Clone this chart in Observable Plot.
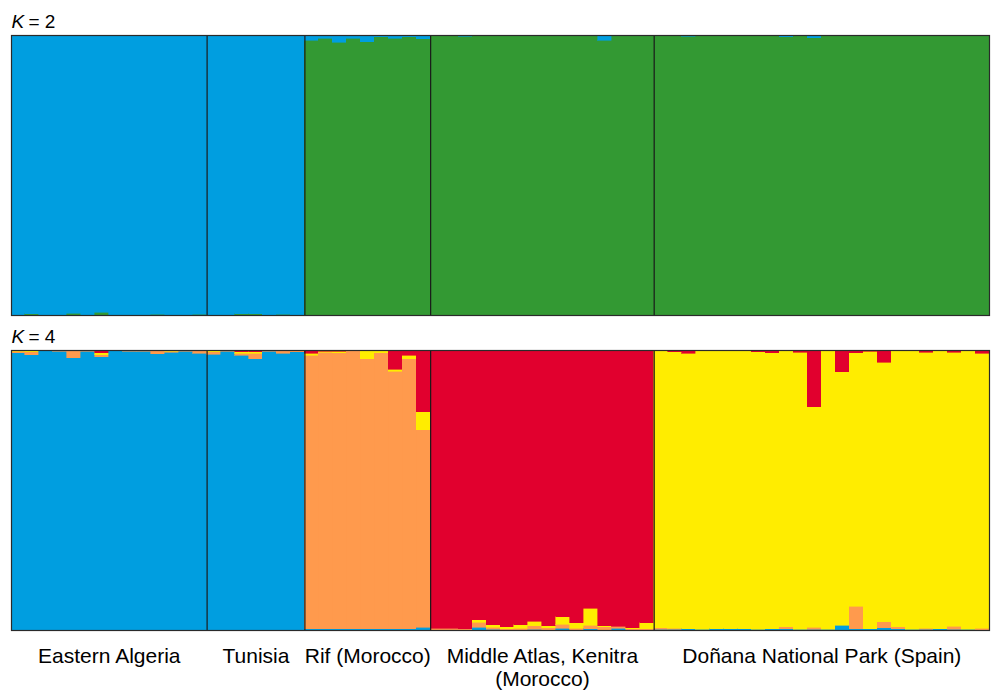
<!DOCTYPE html>
<html>
<head>
<meta charset="utf-8">
<script src="https://cdn.jsdelivr.net/npm/d3@7"></script>
<script src="https://cdn.jsdelivr.net/npm/@observablehq/plot@0.6"></script>
<style>
  html, body { margin: 0; padding: 0; background: #fff; overflow: hidden; }
  svg { display: block; }
</style>
</head>
<body>
<div id="chart"></div>
<script>
// Populations (label, number of individuals)
const popNames = ["Eastern Algeria", "Tunisia", "Rif (Morocco)", "Middle Atlas, Kenitra\n(Morocco)", "Doñana National Park (Spain)"];
const popSizes = [14, 7, 9, 16, 24];

// K = 2 membership coefficients (stack order bottom -> top: green, blue)
const k2Green = [
  0, .004, 0, 0, .007, 0, .01, 0, 0, 0, .003, 0, 0, .003,
  0, 0, .005, .005, 0, .002, 0,
  .982, .988, .974, .988, .976, .994, .988, .994, .986,
  1, 1, .995, 1, 1, 1, 1, 1, 1, 1, 1, 1, .982, 1, 1, 1,
  1, 1, .996, 1, 1, 1, 1, 1, 1, .993, 1, .99, 1, 1, 1, 1, 1, 1, 1, 1, 1, 1, 1, 1
];
const k2Blue = [
  1, .996, 1, 1, .993, 1, .99, 1, 1, 1, .997, 1, 1, .997,
  1, 1, .995, .995, 1, .998, 1,
  .018, .012, .026, .012, .024, .006, .012, .006, .014,
  0, 0, .005, 0, 0, 0, 0, 0, 0, 0, 0, 0, .018, 0, 0, 0,
  0, 0, .004, 0, 0, 0, 0, 0, 0, .007, 0, .01, 0, 0, 0, 0, 0, 0, 0, 0, 0, 0, 0, 0
];

// K = 4 membership coefficients (stack order bottom -> top: blue, orange, yellow, red)
const k4Blue = [
  .991, .983, .997, .995, .973, .995, .976, .997, .996, .995, .986, .992, .996, .988,
  .984, .995, .981, .968, .996, .988, .994,
  .005, .004, .004, .004, .004, .004, .004, .004, .01,
  0, 0, 0, .01, .003, 0, 0, .003, 0, .006, 0, .005, 0, .006, 0, 0,
  .003, .003, .005, .003, .004, .004, .004, .003, .004, .004, .003, .003, .003, .017, .005, .005, .008, .005, .003, .003, .004, .003, .003, 0
];
const k4Orange = [
  .005, .01, .003, .005, .024, .005, .007, .003, .004, .005, .014, .004, .004, .012,
  .01, .005, .007, .02, .004, .012, .006,
  .977, .988, .986, .994, .964, .986, .921, .964, .705,
  .006, .006, .005, .017, .007, .004, .006, .012, .008, .015, .006, .012, .012, .008, .004, .005,
  .005, .004, 0, 0, 0, 0, 0, 0, 0, .008, 0, .007, 0, 0, .08, 0, .021, .006, 0, .003, 0, .011, 0, .007
];
const k4Yellow = [
  .004, .005, 0, 0, 0, 0, .007, 0, 0, 0, 0, .004, 0, 0,
  .006, 0, .005, .005, 0, 0, 0,
  .006, .003, .006, 0, .032, .01, .006, .014, .065,
  0, 0, 0, .01, .008, .008, .012, .017, .008, .026, .02, .06, .003, 0, .004, .021,
  .990, .987, .983, .995, .993, .994, .993, .990, .987, .985, .989, .788, .994, .905, .906, .991, .927, .986, .994, .986, .993, .978, .994, .981
];
const k4Red = [
  0, .002, 0, 0, .003, 0, .01, 0, 0, 0, 0, 0, 0, 0,
  0, 0, .007, .007, 0, 0, 0,
  .012, .005, .004, .002, 0, 0, .069, .018, .22,
  .994, .994, .995, .963, .982, .988, .982, .968, .984, .953, .974, .923, .985, .986, .992, .974,
  .002, .006, .012, .002, .003, .002, .003, .007, .009, .003, .008, .202, .003, .078, .009, .004, .044, .003, .003, .008, .003, .008, .003, .012
];

const clusterNames = ["cl-blue", "cl-green", "cl-orange", "cl-yellow", "cl-red"];
const clusterColors = ["#009ee0", "#339933", "#ff9a4d", "#ffed00", "#e1002e"];

const panels = [
  {K: "K2", label: "= 2", series: [["cl-green", k2Green], ["cl-blue", k2Blue]]},
  {K: "K4", label: "= 4", series: [["cl-blue", k4Blue], ["cl-orange", k4Orange], ["cl-yellow", k4Yellow], ["cl-red", k4Red]]}
];

// build stacked rows
const rows = [];
for (const p of panels) {
  const n = p.series[0][1].length;
  for (let i = 0; i < n; i++) {
    let acc = 0;
    for (const [name, arr] of p.series) {
      const q = arr[i];
      if (q > 0) rows.push({K: p.K, cluster: name, x1: i, x2: i + 1, y1: acc, y2: Math.min(1, acc + q)});
      acc += q;
    }
  }
}

const total = d3.sum(popSizes);
const bounds = d3.cumsum(popSizes).slice(0, -1);
const starts = [0, ...bounds];
const labels = popNames.map((name, j) => ({K: "K4", name, x: starts[j] + popSizes[j] / 2}));
const titles = panels.map(p => ({K: p.K, label: p.label}));

const font = "'Liberation Sans', Arial, Helvetica, sans-serif";

const chart = Plot.plot({
  width: 991,
  height: 690,
  marginTop: 35,
  marginBottom: 60,
  marginLeft: 11,
  marginRight: 2,
  style: {fontFamily: font, background: "#fff", overflow: "visible"},
  x: {domain: [0, total], axis: null},
  y: {domain: [0, 1], axis: null},
  fy: {domain: ["K2", "K4"], paddingInner: 35 / 315, paddingOuter: 0, axis: null},
  color: {type: "ordinal", domain: clusterNames, range: clusterColors},
  marks: [
    Plot.rect(rows, {x1: "x1", x2: "x2", y1: "y1", y2: "y2", fy: "K", fill: "cluster", stroke: "cluster", strokeWidth: 0.6, shapeRendering: "crispEdges"}),
    Plot.ruleX(bounds, {stroke: "#1a1a1a", strokeWidth: 1.2}),
    Plot.frame({stroke: "#2a2a2a", strokeWidth: 1.2}),
    Plot.text(titles, {fy: "K", x: 0, y: 1, text: () => "K", fontStyle: "italic", fontSize: 19, textAnchor: "start", lineAnchor: "bottom", dy: -8, fill: "#000"}),
    Plot.text(titles, {fy: "K", x: 0, y: 1, text: "label", fontSize: 19, textAnchor: "start", lineAnchor: "bottom", dy: -8, dx: 17, fill: "#000"}),
    Plot.text(labels, {fy: "K", x: "x", y: 0, text: "name", fontSize: 21, textAnchor: "middle", lineAnchor: "top", dy: 15, lineHeight: 1.14, fill: "#000"})
  ]
});

document.getElementById("chart").appendChild(chart);
</script>
</body>
</html>
